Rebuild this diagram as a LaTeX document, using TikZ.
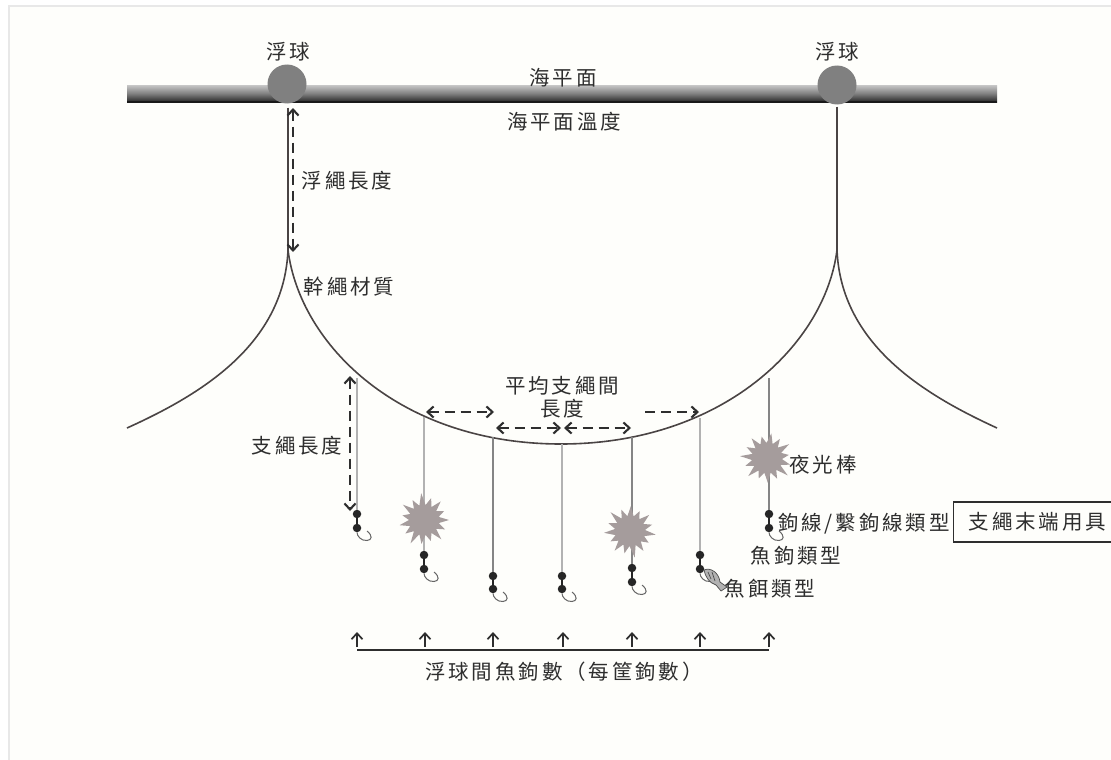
\documentclass[tikz,border=0pt]{standalone}
\usepackage{fontspec}
\usetikzlibrary{shapes.geometric,arrows.meta,calc}
\newfontfamily\cjk[LetterSpace=14]{Noto Sans CJK TC}
\definecolor{txt}{HTML}{2E2E2E}
\definecolor{ball}{HTML}{808080}
\definecolor{glow}{HTML}{A59C9C}
\definecolor{rope}{HTML}{4A4444}
\definecolor{paper}{HTML}{FEFEFB}
\tikzset{
  x=1pt,y=-1pt,
  lab/.style={font=\cjk\fontsize{20.5}{23}\selectfont,text=txt,inner sep=0pt,align=center},
  floatball/.style={circle,fill=ball,minimum size=39pt,inner sep=0pt},
  bead/.style={circle,fill=black!85,minimum size=8.5pt,inner sep=0pt},
  mainline/.style={draw=rope,line width=1.6pt},
  branch/.style={draw=black!48,line width=1.1pt},
  branchlight/.style={draw=black!30,line width=1.1pt},
  hookline/.style={draw=black!60,line width=1pt},
  dim/.style={draw=txt,line width=2.1pt,dash pattern=on 10pt off 6pt},
  tipboth/.style={{Straight Barb[length=6pt,width=11pt]}-{Straight Barb[length=6pt,width=11pt]}},
  tipend/.style={-{Straight Barb[length=6pt,width=11pt]}},
  up/.style={draw=txt,line width=1.7pt,-{Straight Barb[length=6pt,width=11pt]}},
}
\newcommand{\hookat}[1]{\draw[hookline] (#1) .. controls ($(#1)+(0,8)$) and ($(#1)+(4,13)$) .. ($(#1)+(10,12.5)$) .. controls ($(#1)+(15,12)$) and ($(#1)+(16,8)$) .. ($(#1)+(10,3)$);}
\newcommand{\sparkle}[3]{\fill[glow,shift={(#1,#2)},rotate=#3] (0:25)
  \foreach \a/\r in {12/15,24/23,36/15,48/26,60/15,72/22,84/15,96/24,108/15,120/27,132/15,144/23,156/15,168/25,180/15,192/22,204/15,216/26,228/15,240/23,252/15,264/27,276/15,288/23,300/15,312/25,324/15,336/22,348/15}{ -- (\a:\r)} -- cycle;}
\begin{document}
\begin{tikzpicture}
\useasboundingbox (0,0) rectangle (1111,760);
\fill[white] (0,0) rectangle (1111,760);
\fill[paper] (8,5) rectangle (1111,760);
\draw[black!9,line width=2pt] (9,760) -- (9,6) -- (1111,6);

% sea surface
\shade[top color=black!22,bottom color=black!85,middle color=black!50] (127,85) rectangle (997,102);
\fill[black!90] (127,101) rectangle (997,102.5);
\node[floatball] (b1) at (287,84) {};
\node[floatball] (b2) at (837,85) {};

% named points along the main line
\coordinate (k1) at (288,250);
\coordinate (k2) at (837,250);
\coordinate (e1) at (127,428);
\coordinate (e2) at (997,428);
\coordinate (low) at (561,444);

\draw[mainline] (b1.south) ++(1,4) -- (k1);
\draw[mainline] (b2.south) ++(0,2) -- (k2);
\draw[mainline] (k1) .. controls (284,345) and (200,395) .. (e1);
\draw[mainline] (k2) .. controls (841,345) and (925,395) .. (e2);
\draw[mainline] (k1) .. controls (300,345) and (400,444) .. (low)
                     .. controls (722,444) and (825,345) .. (k2);

% glow sticks
\foreach \n/\x/\ytop/\ya/\yb/\sty in {
  a/357/378/514/528/branchlight,
  b/424/417/555/569/branchlight,
  c/493/437/576/589/branch,
  d/562/444/576/589/branchlight,
  e/632/437/568/582/branch,
  f/700/418/555/569/branchlight,
  g/769/378/514/528/branch}{
  \coordinate (top\n) at (\x,\ytop);
  \node[bead] (u\n) at (\x,\ya) {};
  \node[bead] (v\n) at (\x,\yb) {};
  \draw[\sty] (top\n) -- (u\n);
  \draw[black!85,line width=2.6pt] (u\n) -- (v\n);
  \hookat{v\n}
}

\sparkle{424}{520}{0}
\sparkle{630}{531}{40}
\sparkle{767}{458}{80}

% bait fish
\fill[black!30,draw=black!70,line width=0.7pt] (704,570) .. controls (711,567) and (719,573) .. (720,582) -- (727,587) -- (721,591) -- (716,585) .. controls (709,583) and (705,576) .. (704,570) -- cycle;
\draw[black!70,line width=0.7pt] (708,572) -- (711,579) (712,572) -- (715,581);

% dimension arrows
\coordinate (d1a) at (293,108); \coordinate (d1b) at (293,252);
\coordinate (d2a) at (350,376); \coordinate (d2b) at (350,511);
\coordinate (d3a) at (426,412); \coordinate (d3b) at (494,412);
\coordinate (d4a) at (496,428); \coordinate (d4b) at (561,428);
\coordinate (d5a) at (564,428); \coordinate (d5b) at (631,428);
\coordinate (d6a) at (645,412); \coordinate (d6b) at (699,412);
\draw[dim,tipboth] (d1a) -- (d1b);
\draw[dim,tipboth] (d2a) -- (d2b);
\draw[dim,tipboth] (d3a) -- (d3b);
\draw[dim,tipboth] (d4a) -- (d4b);
\draw[dim,tipboth] (d5a) -- (d5b);
\draw[dim,tipend] (d6a) -- (d6b);

% hook count arrows
\coordinate (L1) at (357,650); \coordinate (L7) at (769,650);
\draw[draw=txt,line width=1.3pt] (L1) -- (L7);
\foreach \i/\x in {1/357,2/425,3/493,4/563,5/632,6/700,7/769}{
  \coordinate (ua\i) at (\x,647);
  \coordinate (ub\i) at (\x,632);
  \draw[up] (ua\i) -- (ub\i);
}

% labels
\node[lab] (t1) at (288,52) {浮球};
\node[lab] (t2) at (837,52) {浮球};
\node[lab] (t3) at (563,78) {海平面};
\node[lab] (t4) at (564,122) {海平面溫度};
\node[lab] (t5) at (347,181) {浮繩長度};
\node[lab] (t6) at (349,287) {幹繩材質};
\node[lab] (t7) at (562,397) {平均支繩間\\長度};
\node[lab] (t8) at (297,446) {支繩長度};
\node[lab] (t9) at (823,465) {夜光棒};
\node[lab] (t10) at (864,524) {鉤線/繫鉤線類型};
\node[lab,draw=txt,line width=1.3pt,anchor=west,inner xsep=15pt,minimum height=40pt] (t11) at (953,522) {支繩末端用具};
\node[lab] (t12) at (796,556) {魚鉤類型};
\node[lab] (t13) at (770,589) {魚餌類型};
\node[lab] (t14) at (564,672) {浮球間魚鉤數（每筐鉤數）};
\end{tikzpicture}
\end{document}
